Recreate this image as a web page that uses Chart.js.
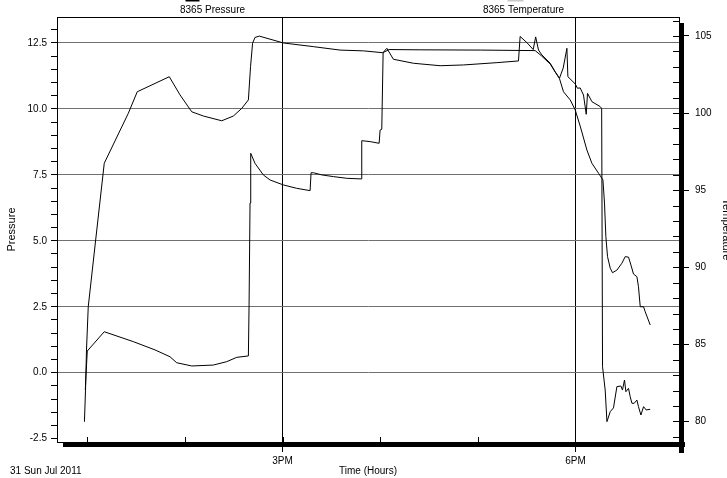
<!DOCTYPE html>
<html>
<head>
<meta charset="utf-8">
<style>
  html, body { margin: 0; padding: 0; background: #fff; }
  canvas { display: block; }
</style>
<script src="https://cdn.jsdelivr.net/npm/chart.js@4.4.1/dist/chart.umd.min.js"></script>
</head>
<body>
<canvas id="loggerChart" width="727" height="478"></canvas>
<script>
// Time of day in decimal hours
const pressureHours = [12.971, 12.982, 12.992, 13.010, 13.086, 13.174, 13.420, 13.512, 13.840, 13.950,
    14.070, 14.189, 14.377, 14.496, 14.582, 14.650, 14.672, 14.693, 14.718, 14.762,
    15.008, 15.316, 15.589, 15.828, 16.027, 16.091, 16.409, 17.024, 17.587, 17.649,
    17.741, 17.792, 17.836, 17.877, 17.946, 17.997, 18.048, 18.117, 18.168, 18.236,
    18.281, 18.297, 18.311, 18.328, 18.356, 18.379, 18.424, 18.475, 18.509, 18.543,
    18.568, 18.594, 18.629, 18.645, 18.663, 18.697, 18.714, 18.765];
const pressureValues = [-1.86, -0.66, 0.86, 2.50, 5.03, 7.94, 9.83, 10.65, 11.22, 10.53,
    9.89, 9.73, 9.55, 9.73, 10.02, 10.34, 11.60, 12.49, 12.71, 12.76,
    12.50, 12.36, 12.23, 12.20, 12.13, 12.25, 12.24, 12.23, 12.21, 12.02,
    11.70, 11.40, 11.15, 10.65, 10.34, 9.96, 9.35, 8.44, 7.94, 7.56,
    7.31, 6.43, 5.16, 4.40, 3.96, 3.79, 3.89, 4.15, 4.40, 4.38,
    4.08, 3.74, 3.64, 3.26, 2.50, 2.50, 2.31, 1.81];

const tempHours = [12.980, 12.987, 13.000, 13.174, 13.471, 13.694, 13.847, 13.916, 14.070, 14.291,
    14.428, 14.531, 14.650, 14.657, 14.667, 14.674, 14.718, 14.803, 14.872, 15.008,
    15.145, 15.282, 15.292, 15.316, 15.402, 15.520, 15.658, 15.804, 15.811, 15.897,
    15.989, 15.999, 16.016, 16.030, 16.068, 16.135, 16.340, 16.614, 16.852, 17.195,
    17.416, 17.433, 17.505, 17.567, 17.592, 17.621, 17.656, 17.741, 17.792, 17.836,
    17.874, 17.912, 17.922, 17.997, 18.020, 18.048, 18.082, 18.110, 18.123, 18.168,
    18.253, 18.268, 18.277, 18.304, 18.322, 18.356, 18.389, 18.424, 18.465, 18.481,
    18.502, 18.516, 18.543, 18.560, 18.578, 18.601, 18.629, 18.645, 18.670, 18.697,
    18.724, 18.765];
const tempValues = [82.04, 83.02, 84.57, 85.82, 85.18, 84.64, 84.20, 83.81, 83.60, 83.66,
    83.88, 84.16, 84.25, 87.56, 94.17, 97.39, 96.74, 95.99, 95.66, 95.34,
    95.12, 94.97, 96.13, 96.13, 95.99, 95.88, 95.77, 95.73, 98.21, 98.15,
    98.04, 98.90, 98.95, 103.93, 104.20, 103.49, 103.23, 103.07, 103.12, 103.27,
    103.38, 104.97, 104.55, 104.12, 104.94, 104.09, 103.77, 103.23, 102.68, 102.26,
    102.92, 104.20, 102.36, 101.89, 101.61, 101.63, 101.17, 99.92, 101.28, 100.74,
    100.42, 100.30, 83.55, 82.04, 79.99, 80.64, 80.88, 82.26, 82.30, 82.04,
    82.69, 81.93, 82.15, 81.61, 81.18, 81.18, 81.39, 80.96, 80.42, 80.96,
    80.75, 80.79];

// Axis ticks and labels
const hourTicks = [13, 14, 15, 16, 17, 18];
const hourLabels = ['', '', '3PM', '', '', '6PM'];
const pressureLabels = [-2.5, 0, 2.5, 5, 7.5, 10, 12.5];
const tempLabels = [80, 85, 90, 95, 100, 105];
const seriesNames = ['8365 Pressure', '8365 Temperature'];
const dateLabel = '31 Sun Jul 2011';

const FONT = "'Liberation Sans', Arial, sans-serif";
const CLEAR = 'rgba(0,0,0,0)';

// minor ticks: every 0.5 on pressure, every degree on temperature
const pressureTicks = [];
for (let v = -2.5; v <= 13; v += 0.5) pressureTicks.push(v);
const tempTicks = [];
for (let v = 79; v <= 106; v++) tempTicks.push(v);

function isPressureLabel(v) {
    return pressureLabels.some(p => Math.abs(p - v) < 1e-6);
}

Chart.defaults.font.family = FONT;
Chart.defaults.font.size = 10;
Chart.defaults.color = '#000';

// Frame, inner ticks, drop shadow, legend texts and the date
const framePlugin = {
    id: 'frame',
    afterDraw(chart) {
        const { ctx, chartArea: a, scales } = chart;
        ctx.save();
        ctx.strokeStyle = '#000';
        ctx.lineWidth = 1;
        ctx.beginPath();
        ctx.moveTo(a.left, a.top + 0.5);
        ctx.lineTo(a.right, a.top + 0.5);
        scales.x.ticks.forEach(t => {
            const x = Math.round(scales.x.getPixelForValue(t.value)) + 0.5;
            ctx.moveTo(x, a.bottom);
            ctx.lineTo(x, a.bottom - 5);
        });
        scales.y2.ticks.forEach(t => {
            const y = Math.round(scales.y2.getPixelForValue(t.value)) + 0.5;
            ctx.moveTo(a.right - 6, y);
            ctx.lineTo(a.right, y);
        });
        ctx.stroke();

        ctx.fillStyle = '#000';
        ctx.fillRect(a.left + 6, a.bottom, a.right - a.left, 5);
        ctx.fillRect(a.right, a.top + 6, 5, a.bottom - a.top + 5);

        // series captions above the plot
        const w = a.right - a.left;
        ctx.font = '10px ' + FONT;
        ctx.textAlign = 'center';
        ctx.textBaseline = 'middle';
        ctx.fillText(seriesNames[0], a.left + w * 0.25, 10.5);
        ctx.fillText(seriesNames[1], a.left + w * 0.75, 10.5);
        ctx.fillStyle = '#000';
        ctx.fillRect(a.left + w * 0.25 - 27, 0, 14, 1.5);
        ctx.fillStyle = '#c8c8c8';
        ctx.fillRect(a.left + w * 0.75 - 16, 0, 16, 1.5);

        ctx.fillStyle = '#000';
        ctx.textAlign = 'left';
        ctx.fillText(dateLabel, 10, 471);
        ctx.restore();
    }
};

const ctx = document.getElementById('loggerChart').getContext('2d');

const loggerChart = new Chart(ctx, {
    type: 'scatter',
    data: {
        datasets: [{
            label: seriesNames[0],
            data: pressureHours.map((h, i) => ({ x: h, y: pressureValues[i] })),
            yAxisID: 'y',
            showLine: true,
            borderColor: '#000',
            borderWidth: 1,
            pointRadius: 0,
            tension: 0
        }, {
            label: seriesNames[1],
            data: tempHours.map((h, i) => ({ x: h, y: tempValues[i] })),
            yAxisID: 'y2',
            showLine: true,
            borderColor: '#000',
            borderWidth: 1,
            pointRadius: 0,
            tension: 0
        }]
    },
    options: {
        responsive: false,
        devicePixelRatio: 1,
        animation: false,
        layout: { padding: { top: 17, left: 0, right: 0, bottom: 0 } },
        plugins: {
            legend: { display: false },
            tooltip: { enabled: false }
        },
        scales: {
            x: {
                type: 'linear',
                position: 'bottom',
                min: 12.69,
                max: 19.06,
                afterBuildTicks: s => { s.ticks = hourTicks.map(v => ({ value: v })); },
                afterFit: s => { s.height = 36; },
                ticks: {
                    autoSkip: false,
                    maxRotation: 0,
                    padding: 3,
                    callback: (v, i) => hourLabels[i]
                },
                grid: {
                    color: c => hourLabels[c.index] ? '#000' : CLEAR,
                    tickColor: c => hourLabels[c.index] ? '#000' : CLEAR,
                    tickLength: 10
                },
                border: { color: '#000' },
                title: {
                    display: true,
                    text: 'Time (Hours)',
                    font: { size: 10 },
                    padding: { top: 0, bottom: 0.5 }
                }
            },
            y: {
                type: 'linear',
                position: 'left',
                min: -2.627,
                max: 13.484,
                afterBuildTicks: s => { s.ticks = pressureTicks.map(v => ({ value: v })); },
                afterFit: s => { s.width = 57; },
                ticks: {
                    autoSkip: false,
                    padding: 4,
                    callback: v => isPressureLabel(v) ? v.toFixed(1) : ''
                },
                grid: {
                    color: c => (isPressureLabel(c.tick.value) && c.tick.value > -2.5) ? '#707070' : CLEAR,
                    tickColor: '#000',
                    tickLength: 6
                },
                border: { color: '#000' },
                title: {
                    display: true,
                    text: 'Pressure',
                    font: { size: 11 },
                    padding: { top: 5, bottom: 0 }
                }
            },
            y2: {
                type: 'linear',
                position: 'right',
                min: 78.67,
                max: 106.23,
                afterBuildTicks: s => { s.ticks = tempTicks.map(v => ({ value: v })); },
                afterFit: s => { s.width = 48; },
                ticks: {
                    autoSkip: false,
                    padding: 6,
                    callback: v => tempLabels.includes(v) ? String(v) : ''
                },
                grid: {
                    drawOnChartArea: false,
                    tickColor: c => tempLabels.includes(c.tick.value) ? '#000' : CLEAR,
                    tickLength: 10
                },
                border: { color: '#000' },
                title: {
                    display: true,
                    text: 'Temperature',
                    font: { size: 11 },
                    padding: { top: -6, bottom: 0 }
                }
            }
        }
    },
    plugins: [framePlugin]
});
</script>
</body>
</html>
